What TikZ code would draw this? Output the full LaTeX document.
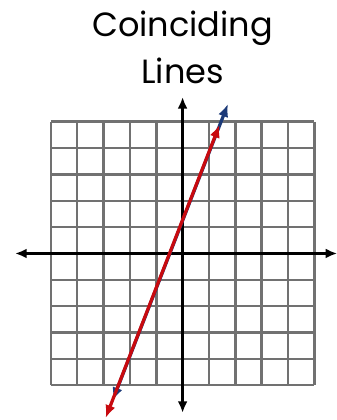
\documentclass[tikz,border=0pt]{standalone}
\usepackage{fontspec}
\setmainfont{Poppins}
\usepackage{tikz}
\usetikzlibrary{positioning,arrows.meta}
\definecolor{gridgray}{HTML}{717171}
\definecolor{linered}{HTML}{C80A0F}
\definecolor{lineblue}{HTML}{1C3A78}

\begin{document}
\begin{tikzpicture}[x=0.8cm,y=0.8cm,
  title/.style={font=\fontsize{29}{34}\selectfont,anchor=base,inner sep=0pt},
  axis/.style={line width=2.6pt,{Latex[length=10pt,width=8.5pt]}-{Latex[length=10pt,width=8.5pt]}},
  graphline/.style={line width=2.8pt,{Latex[length=11pt,width=9pt]}-{Latex[length=11pt,width=9pt]}}
]
  \useasboundingbox (-6.93,-6.32) rectangle (5.83,9.62);
  \draw[gridgray,line width=2.2pt,step=0.8cm] (-5,-5) grid (5,5);
  \node[title] (coin) at (0,8.22) {Coinciding};
  \node[title] (lines) at (0,6.47) {Lines};
  \coordinate (xl) at (-6.36,0);
  \coordinate (xr) at (5.87,0);
  \coordinate (yb) at (0,-6.05);
  \coordinate (yt) at (0,5.94);
  \draw[axis] (xl) -- (xr);
  \draw[axis] (yb) -- (yt);
  \coordinate (blow) at (-2.65,-5.57);
  \coordinate (bhigh) at (1.72,5.67);
  \coordinate (rlow) at (-2.92,-6.24);
  \coordinate (rhigh) at (1.40,4.88);
  \draw[graphline,lineblue] (blow) -- (bhigh);
  \draw[graphline,linered] (rlow) -- (rhigh);
\end{tikzpicture}
\end{document}
